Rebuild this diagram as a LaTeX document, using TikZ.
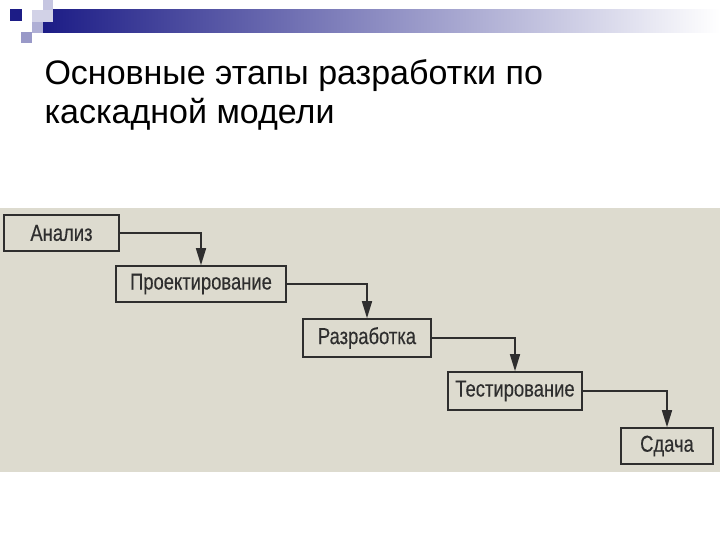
\documentclass[tikz,border=0pt]{standalone}
\usepackage{fontspec}
\setmainfont{Liberation Sans}
\newfontfamily\narrowfont[FakeStretch=0.8,FakeBold=0.3]{Liberation Sans}
\usepackage{tikz}
\usepackage{xcolor}
\usetikzlibrary{positioning,arrows.meta,calc}

\definecolor{scan}{HTML}{DDDBCF}
\definecolor{ink}{HTML}{2E2E2E}
\definecolor{navy}{HTML}{1C1C86}

\tikzset{
  stagebox/.style={rectangle, draw=ink, line width=1.6pt, text=ink, font=\narrowfont\fontsize{23pt}{25pt}\selectfont, inner sep=0pt},
  flow/.style={-{Triangle[length=17pt,width=10pt]}, draw=ink, line width=1.6pt}
}

\begin{document}
\begin{tikzpicture}[x=1pt,y=-1pt]
        \useasboundingbox (0,0) rectangle (720,540);
        \fill[white] (0,0) rectangle (720,540);

        % Template decoration in the top left corner
        \shade[left color=navy, right color=white] (43,10) rectangle (720,33);
        \fill[navy!25] (43,0) rectangle (53,10);
        \fill[navy!20] (32,10) rectangle (53,22);
        \fill[navy!35] (32,22) rectangle (43,33);
        \fill[navy!45] (21,32) rectangle (32,43);
        \fill[navy] (10,9) rectangle (22,21);

        % Title
        \node[anchor=base west, font=\fontsize{34pt}{40pt}\selectfont] (title1) at (41,85) {Основные этапы разработки по};
        \node[anchor=base west, font=\fontsize{34pt}{40pt}\selectfont] (title2) at (41,124) {каскадной модели};

        % Scanned figure background
        \fill[scan] (0,208) rectangle (720,472);

        % Stages of the waterfall
        \foreach \name/\cx/\cy/\w/\h/\txt in {ana/61.5/233/115/36/Анализ, proj/201/284/170/36/Проектирование, dev/367/338/128/38/Разработка, test/515/391/134/38/Тестирование, deliv/667/446/92/36/Сдача} {
          \node[stagebox, minimum width=\w pt, minimum height=\h pt] (\name) at (\cx,\cy) {\txt};
        }

        % Connectors between stages
        \foreach \a/\b in {ana/proj, proj/dev, dev/test, test/deliv} {
          \draw[flow] (\a.east) -| (\b.north);
        }
      \end{tikzpicture}
\end{document}
